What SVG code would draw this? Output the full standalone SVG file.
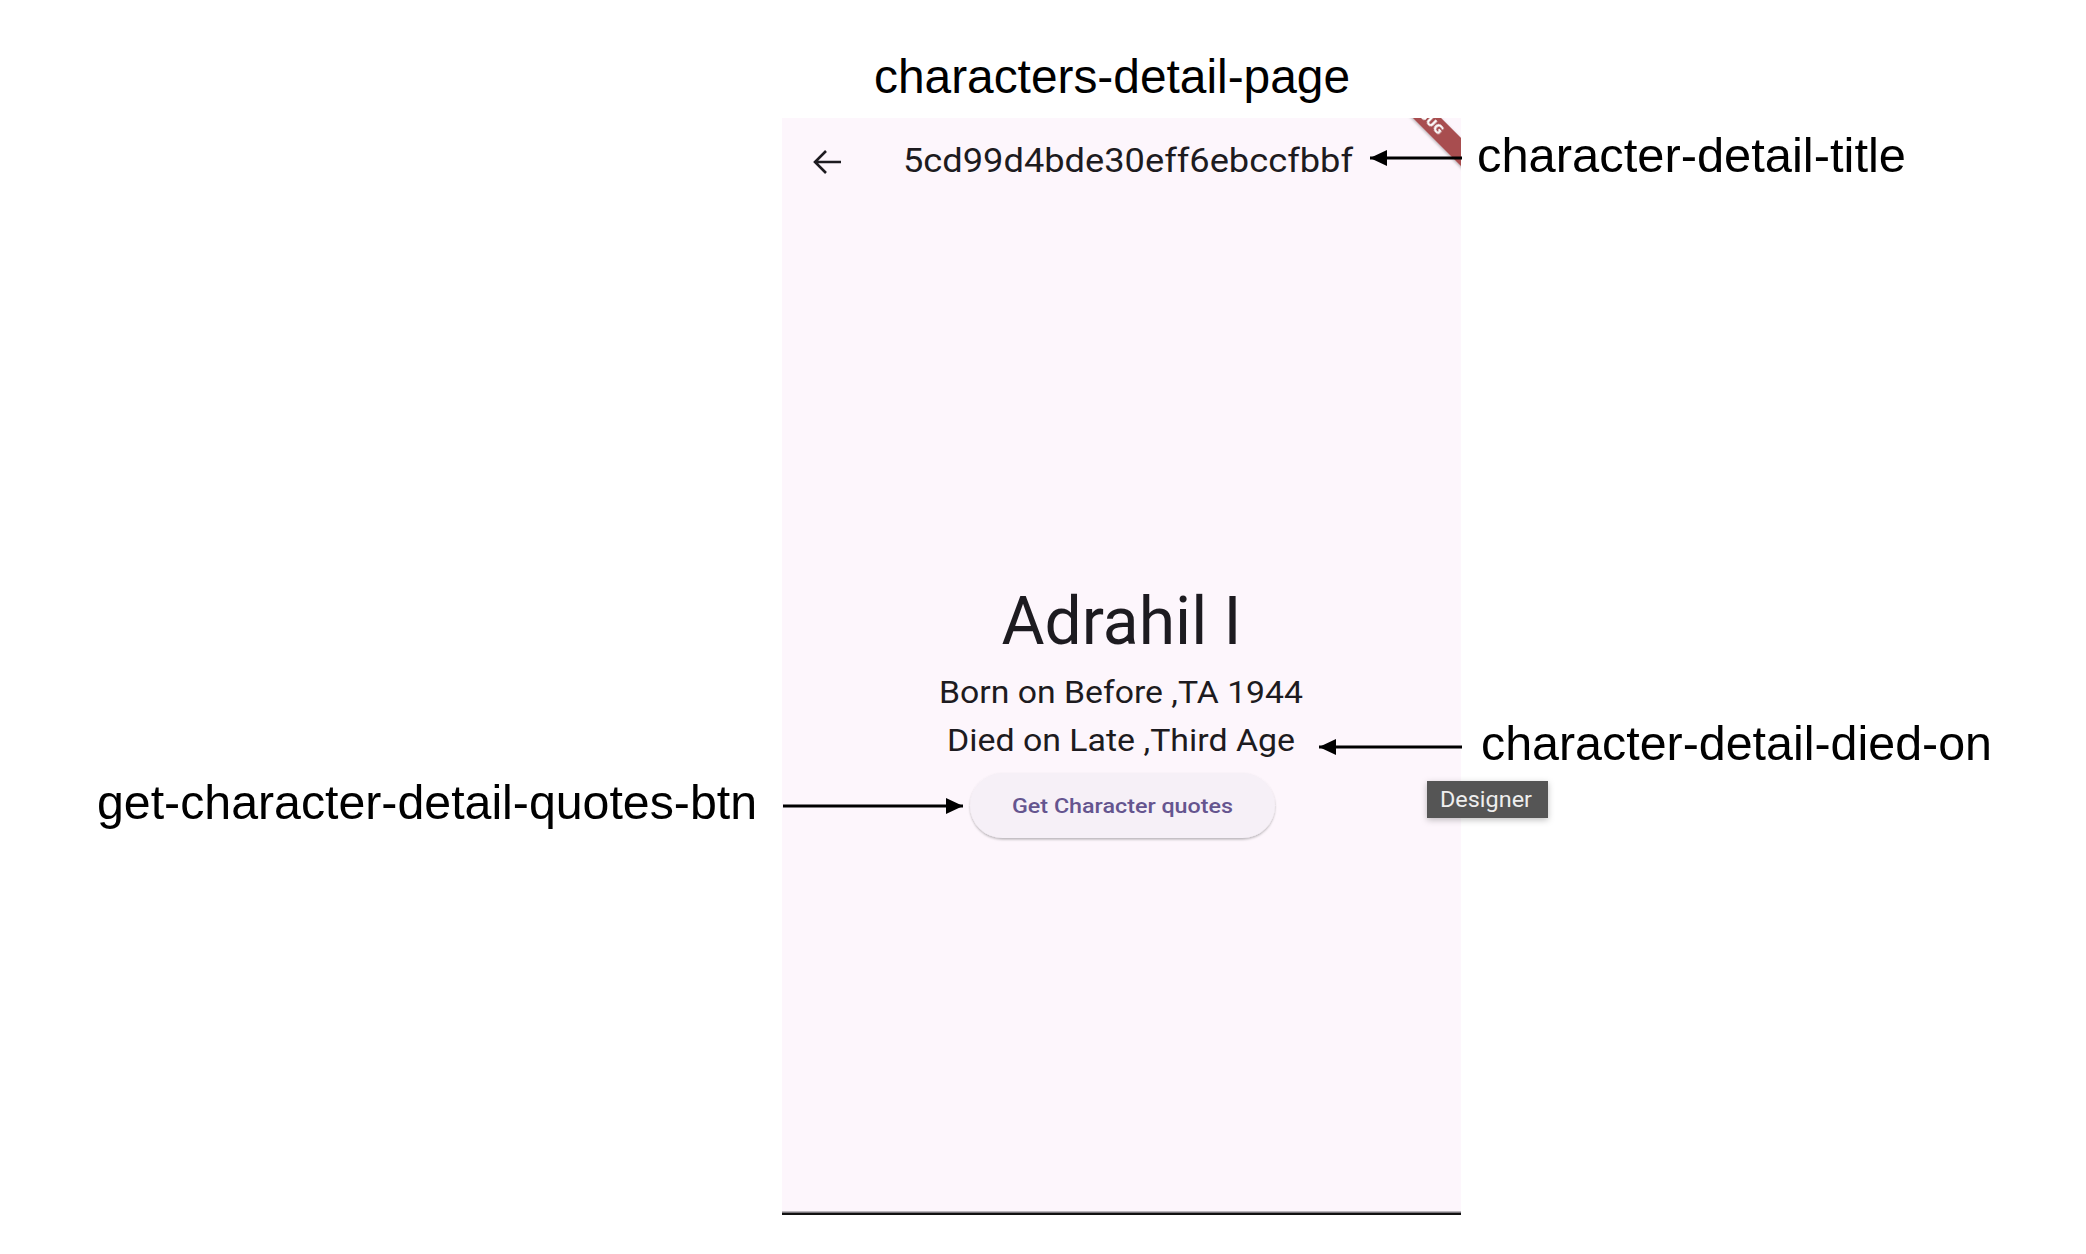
<svg xmlns="http://www.w3.org/2000/svg" width="2086" height="1254" viewBox="0 0 2086 1254">
  <style>
    .label { font-family: "Liberation Sans", Arial, sans-serif; font-size: 48px; fill: #000000; }
    .app { font-family: Roboto, "Liberation Sans", sans-serif; fill: #1D1B20; }
    .conn { stroke: #000000; stroke-width: 3; fill: none; }
  </style>
  <defs>
    <marker id="arrowhead" markerUnits="userSpaceOnUse" markerWidth="18" markerHeight="16" refX="17" refY="8" orient="auto">
      <path d="M0,0 L17,8 L0,16 Z" fill="#000000"/>
    </marker>
    <clipPath id="screenClip">
      <rect x="782" y="118" width="679" height="1095"/>
    </clipPath>
    <filter id="btnShadow" x="-10%" y="-20%" width="120%" height="160%">
      <feDropShadow dx="0" dy="1.5" stdDeviation="1.2" flood-color="#000000" flood-opacity="0.28"/>
    </filter>
    <filter id="tipShadow" x="-20%" y="-30%" width="140%" height="180%">
      <feDropShadow dx="0" dy="2" stdDeviation="3" flood-color="#000000" flood-opacity="0.25"/>
    </filter>
    <filter id="bannerShadow" x="-20%" y="-50%" width="140%" height="200%">
      <feDropShadow dx="0" dy="1" stdDeviation="1.5" flood-color="#000000" flood-opacity="0.3"/>
    </filter>
  </defs>

  <rect x="0" y="0" width="2086" height="1254" fill="#FFFFFF"/>

  <!-- phone screen -->
  <g id="phone-screen">
    <rect x="782" y="118" width="679" height="1095" fill="#FDF6FC"/>
    <rect x="782" y="1211.5" width="679" height="1.5" fill="#7A767C"/>
    <rect x="782" y="1213" width="679" height="2" fill="#111111"/>
    <g clip-path="url(#screenClip)">
      <g transform="translate(1425,116) rotate(45)" filter="url(#bannerShadow)">
        <rect x="-90" y="-10" width="180" height="20" fill="#A84D50"/>
        <text x="0" y="0" dominant-baseline="central" text-anchor="middle" font-family="'DejaVu Sans', 'Liberation Sans', sans-serif" font-weight="bold" font-size="12" fill="#FFFFFF">DEBUG</text>
      </g>
    </g>
  </g>

  <g id="back-button">
    <path d="M841,162 L815,162 M826,151 L815,162 L826,173" stroke="#1D1B20" stroke-width="2.6" fill="none" stroke-linecap="butt" stroke-linejoin="miter"/>
  </g>

  <g id="appbar-title">
    <text class="app" x="903" y="172" font-size="34" textLength="450" lengthAdjust="spacingAndGlyphs">5cd99d4bde30eff6ebccfbbf</text>
  </g>

  <g id="character-name">
    <text class="app" x="1121.5" y="644" font-size="66" text-anchor="middle">Adrahil I</text>
  </g>

  <g id="character-born-on">
    <text class="app" x="939" y="703" font-size="32" textLength="364" lengthAdjust="spacingAndGlyphs">Born on Before ,TA 1944</text>
  </g>

  <g id="character-died-on">
    <text class="app" x="947" y="751" font-size="32" textLength="348" lengthAdjust="spacingAndGlyphs">Died on Late ,Third Age</text>
  </g>

  <g id="quotes-button">
    <rect x="970" y="773" width="305" height="65" rx="32.5" ry="32.5" fill="#F6F0F7" filter="url(#btnShadow)"/>
    <text x="1012" y="813" font-family="Roboto, 'Liberation Sans', sans-serif" font-weight="500" font-size="21" fill="#65558F" textLength="221" lengthAdjust="spacingAndGlyphs">Get Character quotes</text>
  </g>

  <g id="designer-tooltip">
    <rect x="1427" y="781" width="121" height="37" fill="#555555" filter="url(#tipShadow)"/>
    <text x="1440" y="807" font-family="Roboto, 'Liberation Sans', sans-serif" font-size="22" fill="#EEEEEE" textLength="92" lengthAdjust="spacingAndGlyphs">Designer</text>
  </g>

  <!-- annotation labels -->
  <g id="label-characters-detail-page">
    <text class="label" x="874" y="93" textLength="476" lengthAdjust="spacingAndGlyphs">characters-detail-page</text>
  </g>
  <g id="label-character-detail-title">
    <text class="label" x="1477" y="172" textLength="429" lengthAdjust="spacingAndGlyphs">character-detail-title</text>
  </g>
  <g id="label-character-detail-died-on">
    <text class="label" x="1481" y="760" textLength="511" lengthAdjust="spacingAndGlyphs">character-detail-died-on</text>
  </g>
  <g id="label-get-character-detail-quotes-btn">
    <text class="label" x="97" y="819" textLength="660" lengthAdjust="spacingAndGlyphs">get-character-detail-quotes-btn</text>
  </g>

  <!-- connectors -->
  <g id="connectors">
    <line class="conn" x1="1462" y1="158" x2="1370" y2="158" marker-end="url(#arrowhead)"/>
    <line class="conn" x1="1462" y1="747" x2="1319" y2="747" marker-end="url(#arrowhead)"/>
    <line class="conn" x1="783" y1="806" x2="963" y2="806" marker-end="url(#arrowhead)"/>
  </g>
</svg>
